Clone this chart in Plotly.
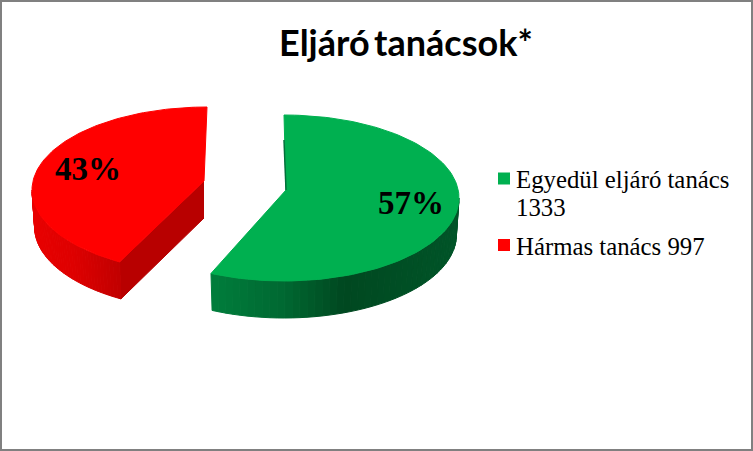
import math
import plotly.graph_objects as go

# --- data ---
title = "Eljáró\u2009tanácsok*"
categories = ["Egyedül eljáró tanács", "Hármas tanács"]
values = [1333, 997]
top_colors = ["#00b050", "#ff0000"]

total = sum(values)
shares = [v / total for v in values]
sweeps = [360 * s for s in shares]

W, H = 753, 451
RX, RY, DEPTH = 175, 83, 37
BOTTOM_SCALE = 0.985


def lerp_hex(stops, t):
    t = max(0, min(1, t))
    for (a, ca), (b, cb) in zip(stops, stops[1:]):
        if t <= b:
            f = (t - a) / (b - a) if b > a else 0
            rgb = [round(ca[i] + (cb[i] - ca[i]) * f) for i in range(3)]
            return "rgb(%d,%d,%d)" % tuple(rgb)
    return "rgb(%d,%d,%d)" % tuple(stops[-1][1])


def rim(c, deg, scale=1.0, dy=0):
    a = math.radians(deg)
    return c[0] + RX * scale * math.sin(a), c[1] - RY * math.cos(a) + dy


def fill(xs, ys, color):
    return go.Scatter(x=xs, y=ys, mode="lines", fill="toself", fillcolor=color,
                      line=dict(color=color, width=1),
                      hoverinfo="skip", showlegend=False)


def wedge(center, tip, a0, a1, color, wall_from, wall_stops, cut_color):
    traces = []
    p = rim(center, a0)
    q = rim(center, a0, BOTTOM_SCALE, DEPTH)
    if cut_color:
        traces.append(fill([tip[0], p[0], q[0], tip[0]],
                           [tip[1], p[1], q[1], tip[1] + DEPTH], cut_color))
    n = 46
    lo, hi = wall_from
    for i in range(n):
        d0 = lo + (hi - lo) * i / n
        d1 = lo + (hi - lo) * (i + 1) / n
        a, b = rim(center, d0), rim(center, d1)
        c, e = rim(center, d1, BOTTOM_SCALE, DEPTH), rim(center, d0, BOTTOM_SCALE, DEPTH)
        t = (a[0] - (center[0] - RX)) / (2 * RX)
        traces.append(fill([a[0], b[0], c[0], e[0], a[0]],
                           [a[1], b[1], c[1], e[1], a[1]], lerp_hex(wall_stops, t)))
    pts = [rim(center, a0 + (a1 - a0) * k / 120) for k in range(121)]
    xs = [tip[0]] + [p[0] for p in pts] + [tip[0]]
    ys = [tip[1]] + [p[1] for p in pts] + [tip[1]]
    traces.append(fill(xs, ys, color))
    return traces


green_c, green_tip = (284, 198), (286, 190)
red_c, red_tip = (207, 190), (204, 181)

GREEN_STOPS = [(0, (0, 150, 70)), (0.3, (0, 125, 60)), (0.5, (0, 105, 50)),
               (0.68, (0, 72, 32)), (1, (0, 84, 40))]
RED_STOPS = [(0, (232, 0, 0)), (0.12, (222, 0, 0)), (0.26, (192, 0, 0)), (0.5, (180, 0, 0))]

# small perspective skew of the drawn rim against the true slice boundary
GREEN_SKEW, RED_SKEW = -1.3, 4
green_end = sweeps[0] + GREEN_SKEW
red_start = sweeps[0] + RED_SKEW

data = []
data += wedge(red_c, red_tip, red_start, 360, top_colors[1],
              (red_start, 270), RED_STOPS, "#b80000")
data += wedge(green_c, green_tip, green_end, 0, top_colors[0],
              (90, green_end), GREEN_STOPS, None)
data.append(go.Scatter(x=[green_c[0], green_tip[0]], y=[140, green_tip[1]], mode="lines",
                       line=dict(color="#00703a", width=1.5),
                       hoverinfo="skip", showlegend=False))
data.append(go.Scatter(x=[504, 504], y=[178.5, 245], mode="markers",
                       marker=dict(symbol="square", size=12, color=top_colors, line=dict(width=0)),
                       hoverinfo="skip", showlegend=False))

SERIF = "Liberation Serif"
LEG = dict(family=SERIF, size=24.8, color="black")
PCT = dict(family=SERIF, size=33, color="black")
annotations = [
    dict(x=406, y=42, text="<b>%s</b>" % title,
         font=dict(family="Lato", size=36, color="black")),
    dict(x=410.5, y=203, text="<b>%d%%</b>" % round(shares[0] * 100), font=PCT),
    dict(x=87.5, y=169, text="<b>%d%%</b>" % round(shares[1] * 100), font=PCT),
    dict(x=514, y=179, xanchor="left", text=categories[0], font=LEG),
    dict(x=514, y=207, xanchor="left", text=str(values[0]), font=LEG),
    dict(x=514, y=246, xanchor="left", text="%s %d" % (categories[1], values[1]), font=LEG),
]
for a in annotations:
    a.update(xref="x", yref="y", showarrow=False, yanchor="middle")
    a.setdefault("xanchor", "center")

fig = go.Figure(data=data)
fig.update_layout(
    width=W, height=H, autosize=False,
    margin=dict(l=0, r=0, t=0, b=0),
    paper_bgcolor="white", plot_bgcolor="white",
    xaxis=dict(range=[0, W], visible=False, fixedrange=True),
    yaxis=dict(range=[H, 0], visible=False, fixedrange=True),
    annotations=annotations,
    shapes=[dict(type="rect", xref="x", yref="y", x0=1, y0=1, x1=752, y1=450,
                 line=dict(color="#808080", width=2), fillcolor="rgba(0,0,0,0)")],
)
fig.write_html("out.html", config={"displayModeBar": False},
               post_script="document.body.style.margin='0';document.body.style.overflow='hidden';")
